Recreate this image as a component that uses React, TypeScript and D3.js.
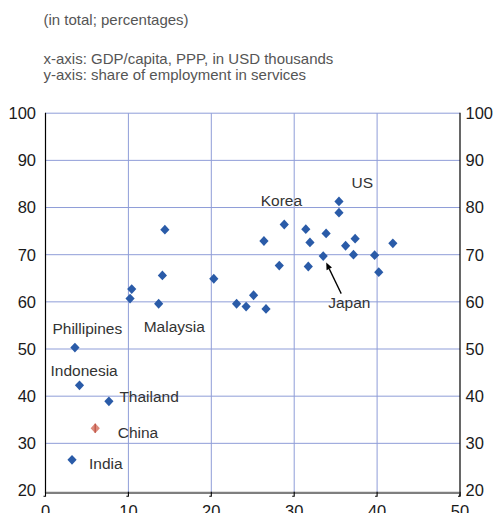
import React, { useEffect } from "react";
import * as d3 from "d3";

// ---- data ----
const gdpPerCapita = [
  10.4, 10.2, 14.4, 14.1, 13.65, 20.3, 23.05, 24.2, 25.1, 26.6,
  26.35, 28.8, 28.2, 31.4, 31.9, 31.7, 33.85, 33.5, 35.4, 35.4,
  36.2, 37.35, 37.15, 39.7, 40.2, 41.9, 3.55, 4.1, 7.65, 3.2,
];
const servicesShare = [
  62.7, 60.7, 75.3, 65.6, 59.6, 64.9, 59.6, 59.0, 61.4, 58.5,
  72.9, 76.4, 67.7, 75.4, 72.6, 67.5, 74.5, 69.7, 81.3, 78.9,
  71.9, 73.4, 70.0, 69.9, 66.3, 72.4, 50.3, 42.3, 38.9, 26.5,
];
const countryNames = [
  "", "", "", "", "Malaysia", "", "", "", "", "",
  "", "Korea", "", "", "", "", "", "Japan", "US", "",
  "", "", "", "", "", "", "Phillipines", "Indonesia", "Thailand", "India",
];
const chinaGdp = [6.0];
const chinaServices = [33.2];
const chinaName = ["China"];

const xTicks = [0, 10, 20, 30, 40, 50];
const yTicks = [20, 30, 40, 50, 60, 70, 80, 90, 100];
const headerLines = [
  "(in total; percentages)",
  "x-axis: GDP/capita, PPP, in USD thousands",
  "y-axis: share of employment in services",
];

// label placement (pixel offsets from the marked point)
const labelOffsets: Record<string, [number, number]> = {
  Malaysia: [-15, 28],
  Korea: [-23.5, -18.5],
  Japan: [5, 52],
  US: [12.5, -13.5],
  Phillipines: [-22.5, -13.5],
  Indonesia: [-29, -9],
  Thailand: [10.5, 1],
  India: [17, 9],
  China: [22.5, 10],
};
const headerBaselines = [25, 63.5, 80];

const W = 493;
const H = 513;
const FONT = "'Liberation Sans', Arial, Helvetica, sans-serif";

export default function App() {
  useEffect(() => {
    document.body.style.margin = "0";
  }, []);

  const x = d3.scaleLinear().domain([0, 50]).range([45.5, 460]);
  const y = d3.scaleLinear().domain([20, 100]).range([490.5, 113.2]);
  const [x0, x1] = x.range();
  const yTop = y(100);
  const axisY = 492.8;

  const diamond = (cx: number, cy: number, r = 4.6) =>
    `M${cx},${cy - r - 0.3}L${cx + r},${cy}L${cx},${cy + r + 0.3}L${cx - r},${cy}Z`;

  const blue = "#2a5ba8";
  const grid = "#8f9dd8";

  const pts = gdpPerCapita.map((g, i) => ({
    px: x(g),
    py: y(servicesShare[i]),
    name: countryNames[i],
  }));
  const china = chinaGdp.map((g, i) => ({
    px: x(g),
    py: y(chinaServices[i]),
    name: chinaName[i],
  }));

  const japan = pts.find((p) => p.name === "Japan")!;
  const arrowStart: [number, number] = [japan.px + 18, japan.py + 37.5];
  const arrowEnd: [number, number] = [japan.px + 3, japan.py + 6.5];
  const ang = Math.atan2(arrowEnd[1] - arrowStart[1], arrowEnd[0] - arrowStart[0]);
  const hl = 7,
    hw = 3;
  const baseX = arrowEnd[0] - hl * Math.cos(ang);
  const baseY = arrowEnd[1] - hl * Math.sin(ang);
  const head = `M${arrowEnd[0]},${arrowEnd[1]}L${baseX + hw * Math.sin(ang)},${baseY - hw * Math.cos(ang)}L${baseX - hw * Math.sin(ang)},${baseY + hw * Math.cos(ang)}Z`;

  return (
    <svg
      width={W}
      height={H}
      style={{ position: "absolute", left: 0, top: 0, background: "#fff" }}
      fontFamily={FONT}
    >
      {/* header */}
      {headerLines.map((t, i) => (
        <text key={i} x={43.5} y={headerBaselines[i]} fontSize={15} fill="#555">
          {t}
        </text>
      ))}

      {/* gridlines */}
      {yTicks
        .filter((t) => t > 20)
        .map((t) => (
          <line key={"gy" + t} x1={x0} x2={x1} y1={y(t)} y2={y(t)} stroke={grid} strokeWidth={1} />
        ))}
      {xTicks
        .filter((t) => t > 0 && t < 50)
        .map((t) => (
          <line key={"gx" + t} x1={x(t)} x2={x(t)} y1={yTop} y2={axisY} stroke={grid} strokeWidth={1} />
        ))}

      {/* axes */}
      <line x1={x0} x2={x0} y1={yTop - 0.5} y2={axisY} stroke="#000" strokeWidth={1.2} />
      <line x1={x1} x2={x1} y1={yTop - 0.5} y2={axisY + 3.5} stroke="#000" strokeWidth={1.2} />
      <line x1={x0} x2={x1} y1={axisY} y2={axisY} stroke="#7f7f7f" strokeWidth={2.2} />
      {xTicks.map((t) => (
        <path
          key={"tk" + t}
          d={`M${x(t)},${axisY - 1}V${axisY + 3.5}H${x(t) - 2}`}
          fill="none"
          stroke="#000"
          strokeWidth={1.1}
        />
      ))}

      {/* tick labels */}
      {yTicks.map((t) => (
        <text key={"yl" + t} x={36} y={y(t)} dy="0.36em" textAnchor="end" fontSize={16.5} fill="#1a1a1a">
          {t}
        </text>
      ))}
      {yTicks.map((t) => (
        <text key={"yr" + t} x={465.5} y={y(t)} dy="0.36em" textAnchor="start" fontSize={16.5} fill="#1a1a1a">
          {t}
        </text>
      ))}
      {xTicks.map((t) => (
        <text key={"xl" + t} x={x(t)} y={516.5} textAnchor="middle" fontSize={16.5} fill="#1a1a1a">
          {t}
        </text>
      ))}

      {/* points */}
      {pts.map((p, i) => (
        <path key={"p" + i} d={diamond(p.px, p.py)} fill={blue} />
      ))}
      {china.map((p, i) => (
        <g key={"c" + i}>
          <path d={diamond(p.px, p.py)} fill="#dc8a7b" />
          <line x1={p.px} x2={p.px} y1={p.py - 4.5} y2={p.py + 4.5} stroke="#c0574a" strokeWidth={1.4} />
        </g>
      ))}

      {/* labels */}
      {[...pts, ...china]
        .filter((p) => p.name)
        .map((p) => {
          const off = labelOffsets[p.name] || [0, 0];
          return (
            <text key={"lb" + p.name} x={p.px + off[0]} y={p.py + off[1]} fontSize={15.5} fill="#333">
              {p.name}
            </text>
          );
        })}

      {/* Japan arrow */}
      <line
        x1={arrowStart[0]}
        y1={arrowStart[1]}
        x2={baseX}
        y2={baseY}
        stroke="#000"
        strokeWidth={1.3}
      />
      <path d={head} fill="#000" />
    </svg>
  );
}
